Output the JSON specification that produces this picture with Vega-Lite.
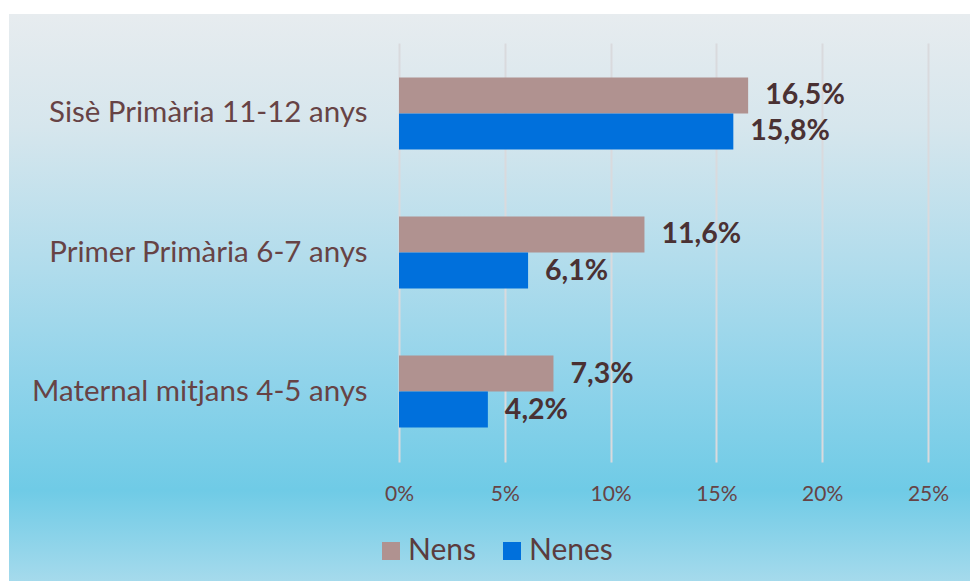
{
  "$schema": "https://vega.github.io/schema/vega-lite/v6.json",
  "width": 961,
  "height": 567,
  "autosize": {"type": "none"},
  "padding": {"left": 9, "top": 14, "right": 0, "bottom": 0},
  "background": "#ffffff",
  "view": {
    "stroke": null,
    "fill": {
      "gradient": "linear", "x1": 0, "y1": 0, "x2": 0, "y2": 1,
      "stops": [
        {"offset": 0, "color": "#e7ecef"},
        {"offset": 0.2, "color": "#d6e6ed"},
        {"offset": 0.45, "color": "#b0dcec"},
        {"offset": 0.65, "color": "#8fd3ea"},
        {"offset": 0.84, "color": "#6fcbe6"},
        {"offset": 1, "color": "#a5daec"}
      ]
    }
  },
  "config": {
    "locale": {"number": {"decimal": ",", "thousands": ".", "grouping": [3], "currency": ["", " €"]}},
    "font": "Lato"
  },
  "data": {"values": [
    {"curs": "Sisè Primària 11-12 anys", "sexe": "Nens", "valor": 0.165},
    {"curs": "Sisè Primària 11-12 anys", "sexe": "Nenes", "valor": 0.158},
    {"curs": "Primer Primària 6-7 anys", "sexe": "Nens", "valor": 0.116},
    {"curs": "Primer Primària 6-7 anys", "sexe": "Nenes", "valor": 0.061},
    {"curs": "Maternal mitjans 4-5 anys", "sexe": "Nens", "valor": 0.073},
    {"curs": "Maternal mitjans 4-5 anys", "sexe": "Nenes", "valor": 0.042}
  ]},
  "encoding": {
    "y": {
      "field": "curs", "type": "nominal",
      "sort": ["Sisè Primària 11-12 anys", "Primer Primària 6-7 anys", "Maternal mitjans 4-5 anys"],
      "scale": {"range": [29, 448], "paddingInner": 0.482, "paddingOuter": 0.248},
      "axis": {
        "title": null, "orient": "left", "offset": -358, "domain": false, "ticks": false, "tickSize": 0,
        "labelPadding": 0, "labelFontSize": 29.5, "labelColor": "#674345", "labelFont": "Lato", "grid": false,
        "labelLimit": 500
      }
    },
    "yOffset": {
      "field": "sexe", "type": "nominal", "sort": ["Nens", "Nenes"],
      "scale": {"paddingInner": 0, "paddingOuter": 0}
    },
    "x": {
      "field": "valor", "type": "quantitative",
      "scale": {"domain": [-0.18431, 0.26985], "nice": false, "zero": false},
      "axis": {
        "title": null, "orient": "top", "offset": -486, "values": [0, 0.05, 0.1, 0.15, 0.2, 0.25],
        "format": ".0%", "domain": false, "ticks": false, "tickSize": 0, "labelPadding": 0,
        "labelBaseline": "alphabetic",
        "labelFontSize": 21, "labelColor": "#674345", "grid": true, "gridColor": "#d9dadd", "gridWidth": 2
      }
    }
  },
  "layer": [
    {
      "mark": {"type": "bar"},
      "encoding": {
        "x2": {"datum": 0},
        "color": {
          "field": "sexe", "type": "nominal", "sort": ["Nens", "Nenes"],
          "scale": {"domain": ["Nens", "Nenes"], "range": ["#b09290", "#0070dc"]},
          "legend": {
            "title": null, "orient": "none", "direction": "horizontal", "legendX": 367, "legendY": 522,
            "symbolType": "square", "symbolSize": 324, "symbolStrokeWidth": 0, "labelFontSize": 30,
            "labelColor": "#5b3c3e", "columnPadding": 20, "labelOffset": 2
          }
        }
      }
    },
    {
      "mark": {"type": "text", "align": "left", "baseline": "middle", "dx": 17, "fontSize": 28.5, "fontWeight": "bold", "color": "#4a3133"},
      "encoding": {
        "text": {"field": "valor", "type": "quantitative", "format": ".1%"}
      }
    }
  ]
}
